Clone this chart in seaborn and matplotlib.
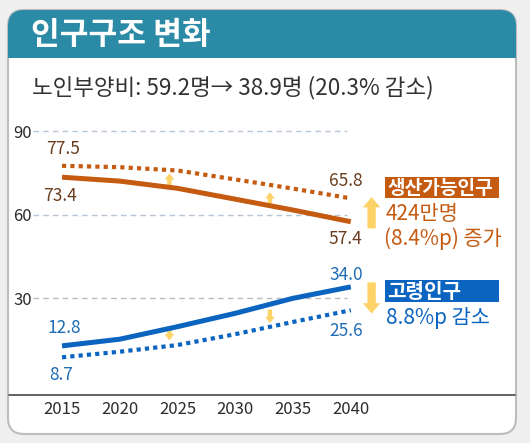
"""
인구구조 변화 - 생산가능인구 / 고령인구 비중 추이
"""

import matplotlib
matplotlib.use("Agg")
import matplotlib.pyplot as plt
import seaborn as sns
import pandas as pd
from matplotlib.patches import FancyBboxPatch, Rectangle
from matplotlib.lines import Line2D

# ---- data ----
years = [2015, 2020, 2025, 2030, 2035, 2040]
working_base = [73.4, 72.0, 69.4, 65.5, 61.6, 57.4]     # 생산가능인구 (solid)
working_alt = [77.5, 77.0, 75.8, 72.6, 69.3, 65.8]      # 생산가능인구 (dotted)
elderly_base = [12.8, 15.2, 19.7, 24.5, 29.9, 34.0]     # 고령인구 (solid)
elderly_alt = [8.7, 10.7, 13.1, 17.0, 21.4, 25.6]       # 고령인구 (dotted)
y_ticks = [30, 60, 90]

title = "인구구조 변화"
subtitle = "노인부양비: 59.2명→ 38.9명 (20.3% 감소)"
work_tag, work_lines = "생산가능인구", ["424만명", "(8.4%p) 증가"]
old_tag, old_lines = "고령인구", ["8.8%p 감소"]

COLORS = {
    "orange": "#c55a11",
    "orange_txt": "#6b3d1e",
    "blue": "#0a64c0",
    "blue_txt": "#1f6cb5",
    "teal": "#2b8ba6",
    "arrow": "#fdd267",
    "tick": "#2b2b2b",
}

W, H = 530, 443
FONT = ["Noto Sans CJK KR", "DejaVu Sans"]

sns.set_theme(style="white")
plt.rcParams["font.family"] = FONT


def fx(px):
    return px / W


def fy(py):
    return 1 - py / H


fig = plt.figure(figsize=(W / 100, H / 100), dpi=100)
fig.patch.set_facecolor("#efefef")

# card + header band
fig.add_artist(FancyBboxPatch((8, H - 434), 508, 424,
                              boxstyle="round,pad=0,rounding_size=16",
                              transform=None, facecolor="white",
                              edgecolor="#bdbdbd", lw=1.5, zorder=0))
fig.add_artist(FancyBboxPatch((8, H - 58), 508, 48,
                              boxstyle="round,pad=0,rounding_size=16",
                              transform=None, facecolor=COLORS["teal"],
                              edgecolor="none", zorder=1))
fig.add_artist(Rectangle((8, H - 58), 508, 24, transform=None,
                         facecolor=COLORS["teal"], edgecolor="none", zorder=1))
fig.text(fx(31), fy(35), title, color="white", fontsize=22.5,
         fontweight="bold", va="center", ha="left", zorder=2)
fig.text(fx(32), fy(88), subtitle, color="#333333", fontsize=16.2,
         fontweight="medium", va="center", ha="left")

# axes
ax = fig.add_axes([fx(33), fy(395), (516 - 33) / W, (395 - 103) / H])
ax.set_facecolor("none")

df = pd.DataFrame({"year": years * 4,
                   "value": working_base + working_alt + elderly_base + elderly_alt,
                   "series": (["wb"] * 6 + ["wa"] * 6 + ["eb"] * 6 + ["ea"] * 6)})

for key, color, ls, lw in [("wb", COLORS["orange"], "-", 3.6),
                           ("wa", COLORS["orange"], (0, (1, 1)), 3.0),
                           ("eb", COLORS["blue"], "-", 3.6),
                           ("ea", COLORS["blue"], (0, (1, 1)), 3.0)]:
    sns.lineplot(data=df[df["series"] == key], x="year", y="value",
                 color=color, linestyle=ls, lw=lw, ax=ax,
                 solid_capstyle="butt", dash_capstyle="butt", zorder=3)

# grid lines
for y, c in zip(y_ticks, ["#bbbbbb", "#b6c6d6", "#b6c6d6"]):
    ax.hlines(y, 2012.5, 2039.7, colors=c, linestyles=(0, (4, 3)), lw=1, zorder=1)

ax.set_xlim(2012.49, 2054.3)
ax.set_ylim(-4.85, 100.06)
ax.set_xticks(years)
ax.set_yticks(y_ticks)
ax.tick_params(axis="both", length=0, labelsize=12, labelcolor=COLORS["tick"])
ax.tick_params(axis="y", pad=1)
ax.tick_params(axis="x", pad=4)
ax.set_xlabel("")
ax.set_ylabel("")
sns.despine(ax=ax, left=True, bottom=True)

fig.add_artist(Line2D([fx(9), fx(515)], [fy(395), fy(395)],
                      color="#555555", lw=1.3))


def label(x, y, txt, color, dx, dy):
    ax.annotate(txt, (x, y), xytext=(dx, dy), textcoords="offset pixels",
                ha="center", va="center", color=color, fontsize=12.5)


o_c, b_c = COLORS["orange_txt"], COLORS["blue_txt"]
label(years[0], working_alt[0], f"{working_alt[0]:.1f}", o_c, 1, 17)
label(years[0], working_base[0], f"{working_base[0]:.1f}", o_c, -2, -19)
label(years[-1], working_alt[-1], f"{working_alt[-1]:.1f}", o_c, -5, 17)
label(years[-1], working_base[-1], f"{working_base[-1]:.1f}", o_c, -5, -17)
label(years[0], elderly_base[0], f"{elderly_base[0]:.1f}", b_c, 2, 18)
label(years[0], elderly_alt[0], f"{elderly_alt[0]:.1f}", b_c, -1, -18)
label(years[-1], elderly_base[-1], f"{elderly_base[-1]:.1f}", b_c, -5, 12)
label(years[-1], elderly_alt[-1], f"{elderly_alt[-1]:.1f}", b_c, -5, -21)


def arrow(x, y0, y1, big=False):
    style = ("simple,head_length=0.75,head_width=1.25,tail_width=0.6" if big
             else "simple,head_length=0.45,head_width=0.7,tail_width=0.32")
    ax.annotate("", xy=(x, y1), xytext=(x, y0),
                arrowprops=dict(arrowstyle=style, color=COLORS["arrow"], lw=0,
                                shrinkA=0, shrinkB=0, mutation_scale=10),
                zorder=2)


# small arrows between the lines
arrow(2024.3, 70.4, 74.8)
arrow(2033.0, 64.0, 68.0)
arrow(2024.3, 19.3, 14.8)
arrow(2033.0, 25.8, 21.0)
# big arrows beside the labels
arrow(2041.8, 55.0, 66.3, big=True)
arrow(2041.8, 35.6, 24.4, big=True)

# side labels
fig.add_artist(Rectangle((fx(385), fy(198)), (499 - 385) / W, 21 / H,
                         transform=fig.transFigure, facecolor=COLORS["orange"],
                         edgecolor="none"))
fig.text(fx(387), fy(188), work_tag, color="white", fontsize=13.8,
         fontweight="bold", va="center", ha="left")
fig.text(fx(386), fy(214), work_lines[0], color=COLORS["orange"], fontsize=15,
         fontweight="medium", va="center", ha="left")
fig.text(fx(384), fy(239), work_lines[1], color=COLORS["orange"], fontsize=15,
         fontweight="medium", va="center", ha="left")

fig.add_artist(Rectangle((fx(385), fy(302)), (499 - 385) / W, 22 / H,
                         transform=fig.transFigure, facecolor=COLORS["blue"],
                         edgecolor="none"))
fig.text(fx(387), fy(291), old_tag, color="white", fontsize=14.5,
         fontweight="bold", va="center", ha="left")
fig.text(fx(386), fy(318), old_lines[0], color=COLORS["blue"], fontsize=15,
         fontweight="medium", va="center", ha="left")

plt.savefig("out.png", dpi=100, facecolor=fig.get_facecolor())
